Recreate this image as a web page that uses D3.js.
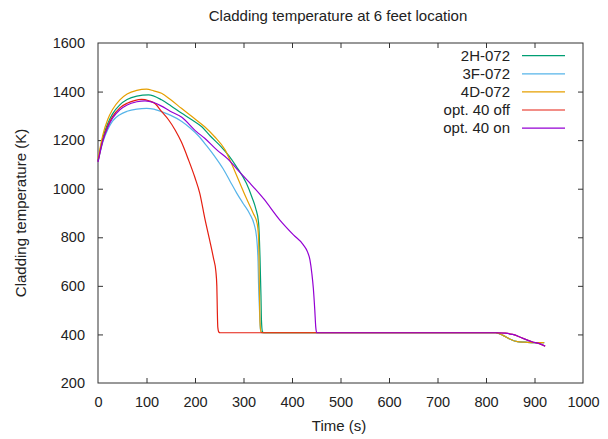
<!DOCTYPE html>
<html>
<head>
<meta charset="utf-8">
<script src="https://cdn.jsdelivr.net/npm/d3@7"></script>
<style>
  html, body { margin: 0; padding: 0; background: #fff; }
  svg { display: block; font-family: "Liberation Sans", Arial, sans-serif; }
</style>
</head>
<body>
<svg id="chart" width="608" height="439"></svg>
<script>
// ---- Data ----
const xTicks = [0, 100, 200, 300, 400, 500, 600, 700, 800, 900, 1000];
const yTicks = [200, 400, 600, 800, 1000, 1200, 1400, 1600];

const seriesNames = ["2H-072", "3F-072", "4D-072", "opt. 40 off", "opt. 40 on"];

const t2H = [0,10,20,30,45,60,80,104,131,150,172,195,214,231,255,270,285,306,318,325,331,334,336,337,339,342,500,700,820,835,850,865,880,900,920];
const k2H = [1115,1210,1268,1308,1345,1367,1381,1386,1366,1342,1312,1282,1255,1218,1170,1135,1092,1022,962,920,862,720,560,460,412,407,407,407,407,396,380,370,368,366,366];

const t3F = [0,10,20,30,45,60,80,100,115,131,150,172,190,207,225,241,258,272,286,300,313,322,327,330,331,333,335,338,500,700,820,835,850,865,880,900,920];
const k3F = [1110,1192,1243,1278,1305,1319,1328,1331,1328,1317,1302,1278,1250,1218,1174,1132,1082,1032,982,937,896,853,800,700,610,500,420,407,407,407,407,396,380,370,368,366,366];

const t4D = [0,10,20,30,45,60,80,100,115,131,150,172,195,220,240,262,275,290,305,320,328,331,332,333,334,336,340,500,700,820,835,850,865,880,900,920];
const k4D = [1122,1222,1285,1326,1366,1390,1405,1410,1403,1393,1366,1331,1295,1255,1215,1160,1105,1035,965,899,858,800,700,560,450,412,407,407,407,407,396,380,370,368,366,366];

const tOff = [0,10,20,30,45,60,75,90,105,118,131,145,159,172,186,200,210,220,230,238,243,245,246,247,249,252,500,700,820,840,855,875,895,910,922];
const kOff = [1112,1200,1258,1297,1333,1352,1363,1368,1362,1350,1318,1285,1242,1192,1122,1045,980,880,790,715,660,600,500,430,410,407,407,407,407,405,400,385,370,362,352];

const tOn = [0,10,20,30,45,60,80,97,115,131,148,172,203,220,245,268,286,310,341,375,403,423,432,437,441,444,447,449,451,500,700,820,840,855,875,895,910,922];
const kOn = [1110,1198,1252,1290,1325,1345,1358,1362,1355,1340,1320,1295,1235,1208,1160,1122,1082,1030,960,871,810,770,740,707,650,590,500,430,407,407,407,407,405,400,385,370,362,352];

const colors = ["#009e73", "#56b4e9", "#e69f00", "#e51e10", "#9400d3"];

const seriesT = [t2H, t3F, t4D, tOff, tOn];
const seriesK = [k2H, k3F, k4D, kOff, kOn];

// ---- Layout ----
const svg = d3.select("#chart");
const L = 98, R = 583, T = 43, B = 383;

const x = d3.scaleLinear().domain([0, 1000]).range([L, R]);
const y = d3.scaleLinear().domain([200, 1600]).range([B, T]);

const axisColor = "#333";
const tickLen = 5;

const gB = svg.append("g").attr("transform", `translate(0,${B})`)
  .call(d3.axisBottom(x).tickValues(xTicks).tickSize(-tickLen).tickPadding(14).tickFormat(d3.format("d")));
const gT = svg.append("g").attr("transform", `translate(0,${T})`)
  .call(d3.axisTop(x).tickValues(xTicks).tickSize(-tickLen).tickFormat(""));
const gL = svg.append("g").attr("transform", `translate(${L},0)`)
  .call(d3.axisLeft(y).tickValues(yTicks).tickSize(-tickLen).tickPadding(13).tickFormat(d3.format("d")));
const gR = svg.append("g").attr("transform", `translate(${R},0)`)
  .call(d3.axisRight(y).tickValues(yTicks).tickSize(-tickLen).tickFormat(""));

[gB, gT, gL, gR].forEach(g => {
  g.select(".domain").remove();
  g.selectAll(".tick line").attr("stroke", axisColor).attr("stroke-width", 1);
  g.selectAll(".tick text").attr("fill", "#222").style("font-size", "14.5px")
    .style("font-family", '"Liberation Sans", Arial, sans-serif');
});
[gB, gT].forEach(g => g.selectAll(".tick").filter(d => d === 0 || d === 1000).select("line").remove());
[gL, gR].forEach(g => g.selectAll(".tick").filter(d => d === 200 || d === 1600).select("line").remove());

svg.append("rect").attr("x", L).attr("y", T).attr("width", R - L).attr("height", B - T)
  .attr("fill", "none").attr("stroke", axisColor).attr("stroke-width", 1);

// ---- Lines ----
const line = d3.line().x(d => x(d[0])).y(d => y(d[1])).curve(d3.curveMonotoneX);
const plot = svg.append("g");
seriesNames.forEach((name, i) => {
  const pts = seriesT[i].map((t, j) => [t, seriesK[i][j]]);
  plot.append("path").datum(pts)
    .attr("d", line)
    .attr("fill", "none")
    .attr("stroke", colors[i])
    .attr("stroke-width", 1.2)
    .attr("stroke-linejoin", "round");
});

// ---- Legend ----
const legY0 = 55.7, legDy = 18.1;
const legend = svg.append("g");
seriesNames.forEach((name, i) => {
  const yy = legY0 + i * legDy;
  legend.append("text").attr("x", 510).attr("y", yy + 5)
    .attr("text-anchor", "end").attr("fill", "#222")
    .style("font-size", "15px").text(name);
  legend.append("line").attr("x1", 522).attr("x2", 565).attr("y1", yy).attr("y2", yy)
    .attr("stroke", colors[i]).attr("stroke-width", 1.2);
});

// ---- Titles ----
svg.append("text").attr("x", 338).attr("y", 20.5).attr("text-anchor", "middle")
  .attr("fill", "#222").style("font-size", "15px")
  .text("Cladding temperature at 6 feet location");

svg.append("text").attr("x", 339).attr("y", 431).attr("text-anchor", "middle")
  .attr("fill", "#222").style("font-size", "15px").text("Time (s)");

svg.append("text").attr("transform", `translate(26,${(T + B) / 2}) rotate(-90)`)
  .attr("text-anchor", "middle").attr("fill", "#222")
  .style("font-size", "15px").text("Cladding temperature (K)");
</script>
</body>
</html>
